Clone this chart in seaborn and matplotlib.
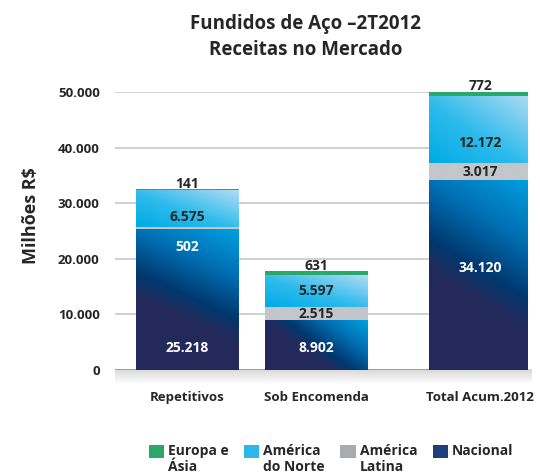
import numpy as np
import pandas as pd
import matplotlib
matplotlib.use("Agg")
import matplotlib.pyplot as plt
from matplotlib.colors import LinearSegmentedColormap
from matplotlib.patches import Patch, Rectangle
from matplotlib.legend_handler import HandlerPatch
import seaborn as sns

# data (milhões R$)
categories = ["Repetitivos", "Sob Encomenda", "Total Acum.2012"]
nacional = [25218, 8902, 34120]
am_latina = [502, 2515, 3017]
am_norte = [6575, 5597, 12172]
europa_asia = [141, 631, 772]
yticks = [0, 10000, 20000, 30000, 40000, 50000]
ytick_labels = ["0", "10.000", "20.000", "30.000", "40.000", "50.000"]

# layout
pos = [0.0, 0.884, 2.0]
bar_w = 0.70

sns.set_theme(style="white")
plt.rcParams["font.family"] = ["Open Sans", "DejaVu Sans"]
plt.rcParams["font.weight"] = "bold"

dark = "#262626"

cmaps = {
    "Nacional": LinearSegmentedColormap.from_list(
        "nac", [(0, "#232a5b"), (0.40, "#232a5b"), (0.52, "#00386f"),
                (0.75, "#0070b4"), (1, "#00a0e0")]),
    "América\nLatina": LinearSegmentedColormap.from_list(
        "lat", ["#c3c6ca", "#c3c6ca"]),
    "América\ndo Norte": LinearSegmentedColormap.from_list(
        "nor", [(0, "#00aae6"), (0.45, "#2dbbec"), (1, "#b0dcf4")]),
    "Europa e\nÁsia": LinearSegmentedColormap.from_list(
        "eur", ["#2aa86a", "#2aa86a"]),
}
solid = {"Nacional": "#1f4a86", "América\nLatina": "#b5b8bc",
         "América\ndo Norte": "#2ab8ea", "Europa e\nÁsia": "#2aa86a"}


def grad(cmap, a=0.25, b=0.75, n=80):
    u = np.linspace(0, 1, n)
    U, V = np.meshgrid(u, u)
    return cmap(np.clip(a * U + b * V, 0, 1))


stack = [("Nacional", nacional), ("América\nLatina", am_latina),
         ("América\ndo Norte", am_norte), ("Europa e\nÁsia", europa_asia)]
segs = []
base = np.zeros(len(categories))
for name, vals in stack:
    segs.append((name, base.copy(), base + np.array(vals)))
    base = base + np.array(vals)

fig = plt.figure(figsize=(5.4, 4.76), dpi=100)
ax = fig.add_axes([115 / 540, 1 - 370 / 476, (527 - 115) / 540, (370 - 92) / 476])

df = pd.DataFrame({"pos": pos})
for name, lo, hi in reversed(segs):
    df["top"] = hi
    n0 = len(ax.patches)
    sns.barplot(data=df, x="pos", y="top", native_scale=True,
                width=bar_w / (pos[1] - pos[0]), color=solid[name],
                errorbar=None, ax=ax, zorder=2, linewidth=0)
    for p, b, t in zip(ax.patches[n0:], lo, hi):
        x0, w = p.get_x(), p.get_width()
        ab = (0.5, 0.5) if name != "Nacional" else (0.25, 0.75)
        if name == "Nacional" and t < 15000:
            ab = (0.6, 0.4)
        ax.imshow(grad(cmaps[name], *ab), extent=(x0, x0 + w, b, t),
                  origin="lower", aspect="auto", zorder=3,
                  interpolation="bilinear")

# floor shadow under baseline
xl = (-0.49, 2.32)
sh = np.zeros((40, 2, 4))
sh[..., :3] = 0.55
sh[..., 3] = np.linspace(0, 0.35, 40)[:, None]
ax.imshow(sh, extent=(xl[0], xl[1] + 0.03, -2600, 0), origin="lower",
          aspect="auto", zorder=1, clip_on=False, interpolation="bilinear")
ax.axhline(0, color="#9c9c9c", lw=1.3, zorder=1.5)

ax.set_xlim(*xl)
ax.set_ylim(0, 50000)
ax.set_yticks(yticks, ytick_labels)
ax.set_xticks(pos, categories)
ax.yaxis.grid(True, color="#c8c8c8", lw=1.2, zorder=0)
ax.set_axisbelow(True)
for s in ax.spines.values():
    s.set_visible(False)
ax.tick_params(axis="y", length=0, pad=11, labelsize=9.5, labelcolor=dark)
ax.tick_params(axis="x", length=0, pad=15, labelsize=9.5, labelcolor=dark)
for t in ax.get_xticklabels() + ax.get_yticklabels():
    t.set_fontweight("bold")
ax.set_xlabel("")
ax.set_ylabel("Milhões R$", fontsize=13, color=dark, fontweight="bold")
ax.yaxis.set_label_coords(-0.183, 0.555)

# value labels
nac_frac = [0.157, 0.45, 0.54]
nor_frac = [0.27, 0.5, 0.30]
lab = dict(ha="center", va="center", fontsize=10, fontweight="bold", zorder=5)
for i in range(len(categories)):
    x = pos[i]
    _, lo, hi = segs[0]
    ax.text(x, lo[i] + nac_frac[i] * (hi[i] - lo[i]),
            f"{nacional[i]:,}".replace(",", "."), color="white", **lab)
    _, lo, hi = segs[1]
    txt = f"{am_latina[i]:,}".replace(",", ".")
    if hi[i] - lo[i] < 1000:
        ax.text(x, lo[i] - 3100, txt, color="white", **lab)
    else:
        ax.text(x, (lo[i] + hi[i]) / 2, txt, color=dark, **lab)
    _, lo, hi = segs[2]
    ax.text(x, lo[i] + nor_frac[i] * (hi[i] - lo[i]),
            f"{am_norte[i]:,}".replace(",", "."), color=dark, **lab)
    _, lo, hi = segs[3]
    ax.text(x, hi[i] + 350, f"{europa_asia[i]:,}".replace(",", "."),
            color=dark, ha="center", va="baseline", fontsize=10,
            fontweight="bold", zorder=5)

fig.text(306 / 540, 1 - 37 / 476, "Fundidos de Aço –2T2012\nReceitas no Mercado",
         ha="center", va="center", fontsize=13.5, fontweight="bold",
         color=dark, linespacing=1.4)


def first_line_patch(legend, orig_handle, xdescent, ydescent, width, height,
                     fontsize):
    return Rectangle((-xdescent, -ydescent + 0.62 * fontsize), width, height)


legend_colors = ["#2aa86a", "#2ab8ea", "#a9acaf", "#1f3f7a"]
# blank second line keeps "Nacional" on the first row like the others
labels = ["Europa e\nÁsia", "América\ndo Norte", "América\nLatina", "Nacional\n "]
handles = [Patch(facecolor=c, edgecolor="none") for c in legend_colors]
leg = fig.legend(handles, labels, loc="center left",
                 bbox_to_anchor=(136 / 540, 1 - 459 / 476), ncol=4,
                 frameon=False, fontsize=10, handlelength=1.1,
                 handleheight=1.1, handletextpad=0.3, columnspacing=1.1,
                 labelspacing=0.2,
                 handler_map={Patch: HandlerPatch(patch_func=first_line_patch)})
for t in leg.get_texts():
    t.set_color(dark)
    t.set_fontweight("bold")
    t.set_linespacing(1.2)

fig.savefig("out.png", dpi=100)
